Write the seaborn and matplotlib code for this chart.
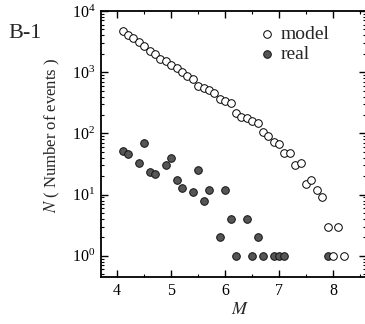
import matplotlib
matplotlib.use("Agg")
import matplotlib.pyplot as plt
import pandas as pd
import seaborn as sns
from matplotlib.ticker import LogLocator, MultipleLocator, NullFormatter

# Magnitude-frequency counts: simulated catalogue vs observed catalogue
model_m = [4.1, 4.2, 4.3, 4.4, 4.5, 4.6, 4.7, 4.8, 4.9, 5.0,
           5.1, 5.2, 5.3, 5.4, 5.5, 5.6, 5.7, 5.8, 5.9, 6.0,
           6.1, 6.2, 6.3, 6.4, 6.5, 6.6, 6.7, 6.8, 6.9, 7.0,
           7.1, 7.2, 7.3, 7.4, 7.5, 7.6, 7.7, 7.8, 7.9, 8.0,
           8.1, 8.2]
model_n = [4700, 4100, 3560, 3080, 2650, 2200, 2000, 1630, 1500, 1320,
           1150, 990, 870, 770, 600, 560, 515, 465, 370, 335,
           310, 218, 188, 181, 158, 150, 105, 90, 72, 66,
           47, 48, 30, 33, 15, 17, 12, 9, 3, 1,
           3, 1]

real_m = [4.1, 4.2, 4.4, 4.5, 4.6, 4.7, 4.9, 5.0, 5.1, 5.2,
          5.4, 5.5, 5.6, 5.7, 5.9, 6.0, 6.1, 6.2, 6.4, 6.5,
          6.6, 6.7, 6.9, 7.0, 7.1, 7.9]
real_n = [51, 46, 33, 69, 23, 22, 30, 40, 17, 13,
          11, 25, 8, 12, 2, 12, 4, 1, 4, 1,
          2, 1, 1, 1, 1, 1]

x_ticks = [4, 5, 6, 7, 8]

model_df = pd.DataFrame({"M": model_m, "N": model_n})
real_df = pd.DataFrame({"M": real_m, "N": real_n})

sns.set_theme(style="ticks")
plt.rcParams["font.family"] = ["Liberation Serif", "DejaVu Serif"]
plt.rcParams["mathtext.fontset"] = "stix"

fig = plt.figure(figsize=(3.65, 3.24), dpi=100)
ax = fig.add_axes([0.2767, 0.1451, 0.726, 0.821])

sns.scatterplot(data=model_df, x="M", y="N", ax=ax, marker="o", s=30,
                color="white", edgecolor="black", linewidth=0.7,
                label="model", zorder=3)
sns.scatterplot(data=real_df, x="M", y="N", ax=ax, marker="o", s=30,
                color="#555555", edgecolor="#111111", linewidth=0.7,
                label="real", zorder=2)

ax.set_yscale("log")
ax.set_ylim(0.45, 1e4)
ax.set_xlim(3.7, 8.61)
ax.set_xticks(x_ticks)
ax.set_xticklabels([str(t) for t in x_ticks])
ax.xaxis.set_minor_locator(MultipleLocator(0.5))
ax.yaxis.set_major_locator(LogLocator(base=10, numticks=10))
ax.yaxis.set_minor_locator(LogLocator(base=10, subs=range(2, 10), numticks=20))
ax.yaxis.set_minor_formatter(NullFormatter())

ax.tick_params(which="both", direction="in", top=True, right=True,
               colors="black", labelsize=11.5)
ax.tick_params(which="major", length=5, width=1.0, pad=4)
ax.tick_params(which="minor", length=2.5, width=0.8)
for sp in ax.spines.values():
    sp.set_linewidth(1.3)
    sp.set_color("black")

ax.set_xlabel("")
ax.set_ylabel("")
fig.text(240 / 365, 1 - 309 / 324, "$M$", fontsize=13,
         ha="center", va="center")
fig.text(52 / 365, 1 - 135 / 324, "$N$ ( Number of events )", fontsize=12,
         rotation=90, ha="center", va="center")
fig.text(8 / 365, 1 - 33 / 324, "B-1", fontsize=16, ha="left", va="center")

ax.legend(frameon=False, loc="upper left", bbox_to_anchor=(0.590, 0.947),
          handlelength=1.0, handletextpad=0.2, labelspacing=0.12,
          borderpad=0, borderaxespad=0, fontsize=14)

fig.savefig("out.png", dpi=100)
